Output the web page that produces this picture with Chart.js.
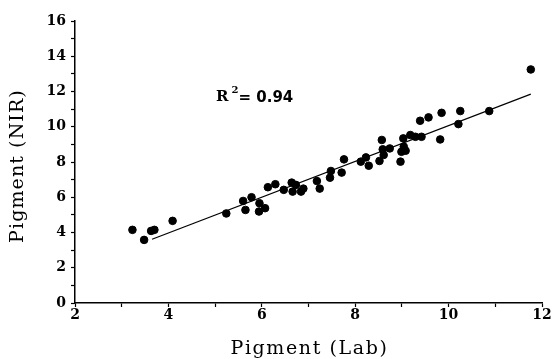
<!DOCTYPE html>
<html>
<head>
<meta charset="utf-8">
<script src="https://cdn.jsdelivr.net/npm/chart.js@4.4.1/dist/chart.umd.min.js"></script>
<style>
  html, body { margin: 0; padding: 0; background: #fff; }
  #wrap { width: 552px; height: 359px; position: relative; }
</style>
</head>
<body>
<div id="wrap"><canvas id="c" width="552" height="359"></canvas></div>
<script>
// Pigment: Lab reference vs NIR prediction
const labValues = [3.23, 3.48, 3.63, 3.70, 4.09, 5.24, 5.60, 5.65, 5.78, 5.94,
  5.95, 6.07, 6.13, 6.29, 6.47, 6.64, 6.66, 6.73, 6.84, 6.89,
  7.18, 7.24, 7.46, 7.48, 7.71, 7.76, 8.12, 8.23, 8.29, 8.52,
  8.57, 8.59, 8.61, 8.74, 8.97, 8.99, 9.03, 9.04, 9.08, 9.18,
  9.29, 9.39, 9.42, 9.57, 9.82, 9.85, 10.21, 10.25, 10.87, 11.76];
const nirValues = [4.15, 3.58, 4.09, 4.15, 4.66, 5.08, 5.79, 5.28, 6.00, 5.19,
  5.66, 5.38, 6.57, 6.74, 6.42, 6.83, 6.32, 6.70, 6.32, 6.49,
  6.92, 6.49, 7.11, 7.49, 7.40, 8.15, 8.02, 8.26, 7.79, 8.06,
  9.25, 8.72, 8.40, 8.77, 8.02, 8.58, 9.34, 8.87, 8.64, 9.53,
  9.43, 10.34, 9.43, 10.53, 9.28, 10.79, 10.15, 10.89, 10.89, 13.25];

// fitted line ends, as drawn
const fitX = [3.65, 11.76];
const fitY = [3.62, 11.85];

const rSquared = '0.94';
const xTitle = 'Pigment (Lab)';
const yTitle = 'Pigment (NIR)';

const serif = '"DejaVu Serif", "Liberation Serif", serif';
const tickFont = { family: serif, size: 14, weight: 'bold' };

// R² note and the spaced-out axis titles
const labels = {
  id: 'labels',
  afterDraw(chart) {
    const { ctx, chartArea: a, scales: { x, y } } = chart;
    const px = x.getPixelForValue(5.02), py = y.getPixelForValue(11.7);
    ctx.save();
    ctx.fillStyle = '#000';
    ctx.textBaseline = 'middle';
    ctx.font = 'bold 15px ' + serif;
    ctx.fillText('R', px, py);
    let w = ctx.measureText('R').width;
    ctx.font = 'bold 10px ' + serif;
    ctx.fillText('2', px + w + 3, py - 6);
    ctx.font = 'bold 15px "DejaVu Sans", sans-serif';
    ctx.fillText('= ' + rSquared, px + w + 10, py + 1);

    ctx.font = '19px ' + serif;
    ctx.textAlign = 'center';
    ctx.letterSpacing = '1.6px';
    ctx.fillText(xTitle, (a.left + a.right) / 2 + 1, 349);
    ctx.letterSpacing = '1.1px';
    ctx.translate(18, 166);
    ctx.rotate(-Math.PI / 2);
    ctx.fillText(yTitle, 0, 0);
    ctx.restore();
  }
};

const axisBase = {
  type: 'linear',
  border: { color: '#000', width: 1.5 },
  grid: { drawOnChartArea: false, color: '#000', tickLength: 4, tickWidth: 1.2 }
};

new Chart(document.getElementById('c'), {
  type: 'scatter',
  data: {
    datasets: [
      { data: labValues.map((v, i) => ({ x: v, y: nirValues[i] })),
        backgroundColor: '#000', borderColor: '#000', pointRadius: 3.8, pointHoverRadius: 3.8 },
      { data: fitX.map((v, i) => ({ x: v, y: fitY[i] })), showLine: true,
        borderColor: '#000', borderWidth: 1.2, pointRadius: 0 }
    ]
  },
  options: {
    responsive: false,
    animation: false,
    devicePixelRatio: 1,
    layout: { padding: { top: 21, right: 10, left: 0, bottom: 0 } },
    plugins: { legend: { display: false }, tooltip: { enabled: false } },
    scales: {
      x: { ...axisBase, min: 2, max: 12,
        ticks: { stepSize: 1, autoSkip: false, color: '#000', font: tickFont, padding: 0, maxRotation: 0,
          callback: (v) => v % 2 === 0 ? v : '' },
        afterFit: (s) => { s.height = 56; } },
      y: { ...axisBase, min: 0, max: 16,
        ticks: { stepSize: 1, autoSkip: false, color: '#000', font: tickFont, padding: 5,
          callback: (v) => v % 2 === 0 ? v : '' },
        afterFit: (s) => { s.width = 75; } }
    }
  },
  plugins: [labels]
});
</script>
</body>
</html>
